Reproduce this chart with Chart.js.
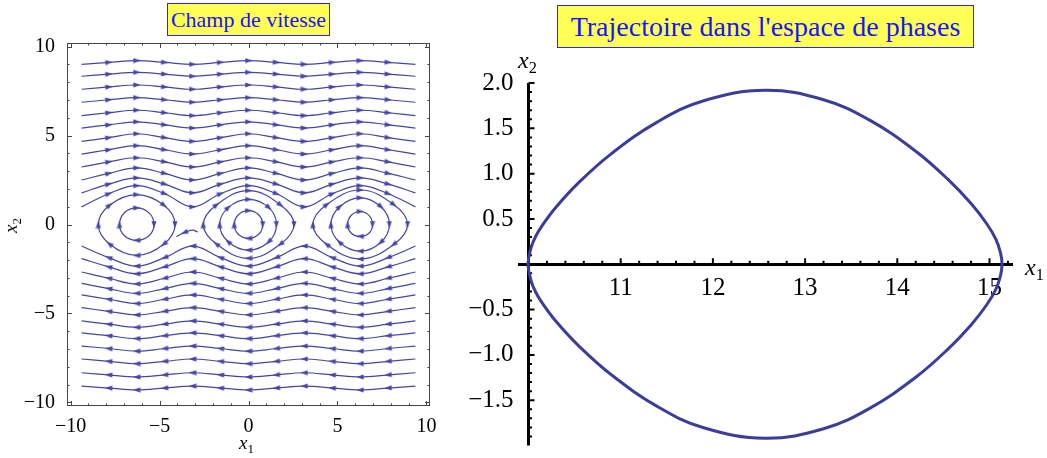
<!DOCTYPE html>
<html>
<head>
<meta charset="utf-8">
<script src="https://cdn.jsdelivr.net/npm/chart.js@4.4.1/dist/chart.umd.min.js"></script>
<style>
  html, body { margin: 0; background: #fff; }
  body { position: relative; width: 1047px; height: 458px; overflow: hidden; font-family: "Liberation Serif", "Times New Roman", serif; }
  canvas { position: absolute; top: 0; }
  #field { left: 0; }
  #phase { left: 450px; }
  .box { position: absolute; box-sizing: border-box; background: #ffff55; border: 1px solid #2b2be0; color: #1414ff; text-align: center; white-space: nowrap; }
  .lbl { position: absolute; font-style: italic; line-height: 1; white-space: nowrap; color: #000; }
  .lbl sub { font-style: normal; font-size: 0.68em; vertical-align: -0.32em; line-height: 0; }
</style>
</head>
<body>
<canvas id="field" width="445" height="458"></canvas>
<canvas id="phase" width="597" height="458"></canvas>

<div class="box" style="left:167px;top:3px;width:163px;height:33px;font-size:22px;line-height:31px;">Champ de vitesse</div>
<div class="box" style="left:557px;top:5px;width:417px;height:43px;font-size:28px;line-height:41px;">Trajectoire dans l'espace de phases</div>

<div class="lbl" style="left:239px;top:433px;font-size:19px;">x<sub>1</sub></div>
<div class="lbl" style="left:3px;top:216px;font-size:19px;transform:rotate(-90deg);">x<sub>2</sub></div>
<div class="lbl" style="left:518px;top:48px;font-size:24px;">x<sub>2</sub></div>
<div class="lbl" style="left:1025px;top:255px;font-size:24px;">x<sub>1</sub></div>

<script>
// ---- velocity field (left) ----
// open stream lines are sampled at the troughs (x1 = ±π, ±3π), the crests (0, ±2π) and half way between
const streamX1 = [-9.38, -7.85, -6.28, -4.71, -3.14, -1.57, 0, 1.57, 3.14, 4.71, 6.28, 7.85, 9.38];
const streamPhase = [0, 1, 2, 1, 0, 1, 2, 1, 0, 1, 2, 1, 0]; // 0 trough, 1 half way, 2 crest

// lines above the eyes (flow to the right)
const upperTrough = [9.00, 8.33, 7.60, 6.87, 6.12, 5.42, 4.67, 3.96, 3.23, 2.50, 1.78, 0.99];
const upperMid    = [9.11, 8.45, 7.73, 7.01, 6.28, 5.60, 4.88, 4.20, 3.52, 2.87, 2.27, 1.73];
const upperCrest  = [9.21, 8.55, 7.84, 7.13, 6.42, 5.77, 5.10, 4.43, 3.75, 3.18, 2.62, 2.18];

// lines below the eyes (flow to the left)
const lowerTrough = [-1.21, -1.92, -2.67, -3.31, -3.96, -4.67, -5.42, -6.09, -6.83, -7.56, -8.33, -9.08];
const lowerMid    = [-1.86, -2.38, -3.02, -3.60, -4.20, -4.88, -5.60, -6.25, -6.97, -7.69, -8.45, -9.19];
const lowerCrest  = [-2.34, -2.77, -3.34, -3.87, -4.44, -5.08, -5.78, -6.41, -7.12, -7.82, -8.57, -9.30];

// closed orbits, clockwise from the leftmost point
const orbitLeftSmall   = [[-7.25, 0], [-6.97, 0.66], [-6.28, 0.93], [-5.59, 0.65], [-5.31, 0], [-5.59, -0.63], [-6.28, -0.89], [-6.97, -0.63]];
const orbitLeftLarge   = [[-8.44, 0], [-7.81, 1.08], [-6.28, 1.68], [-4.75, 1.08], [-4.13, 0], [-4.75, -1.10], [-6.28, -1.74], [-7.81, -1.10]];
const orbitMidSmall    = [[-0.80, 0], [-0.57, 0.55], [0, 0.78], [0.57, 0.55], [0.80, 0], [0.57, -0.55], [0, -0.78], [-0.57, -0.55]];
const orbitMidMedium   = [[-1.62, 0], [-1.14, 0.95], [0, 1.41], [1.14, 0.95], [1.57, 0], [1.14, -0.97], [0, -1.44], [-1.14, -0.97]];
const orbitMidLarge    = [[-2.54, 0], [-1.80, 1.10], [0, 1.90], [1.80, 1.10], [2.56, 0], [1.80, -1.10], [0, -1.90], [-1.80, -1.10]];
const orbitRightSmall  = [[5.57, 0], [5.78, 0.52], [6.28, 0.73], [6.78, 0.50], [6.97, 0], [6.78, -0.48], [6.28, -0.67], [5.78, -0.49]];
const orbitRightMedium = [[4.63, 0], [5.12, 1.00], [6.28, 1.50], [7.44, 1.00], [7.92, 0], [7.44, -1.00], [6.28, -1.50], [5.12, -1.00]];
const orbitRightLarge  = [[3.62, 0], [4.40, 1.12], [6.28, 1.94], [8.16, 1.12], [8.94, 0], [8.16, -1.12], [6.28, -1.94], [4.40, -1.12]];

// short piece leaving the saddle at -π
const saddleSpur = [[-2.85, -0.42], [-3.15, -0.32], [-3.60, -0.45], [-4.05, -0.68]];

const fieldTicks = [-10, -5, 0, 5, 10];
const fieldMinor = [-9, -8, -7, -6, -4, -3, -2, -1, 1, 2, 3, 4, 6, 7, 8, 9];

// ---- phase trajectory (right) ----
const trajX1       = [9.996, 10.03, 10.08, 10.15, 10.3, 10.55, 10.9, 11.4, 11.9, 12.57, 13.2, 13.7, 14.2, 14.55, 14.8, 14.97, 15.07, 15.12, 15.136];
const trajX2Upper  = [0, 0.188, 0.312, 0.429, 0.632, 0.906, 1.221, 1.571, 1.804, 1.919, 1.815, 1.590, 1.247, 0.936, 0.670, 0.447, 0.274, 0.122, 0];
const trajX2Lower  = [0, -0.188, -0.312, -0.429, -0.632, -0.906, -1.221, -1.571, -1.804, -1.919, -1.815, -1.590, -1.247, -0.936, -0.670, -0.447, -0.274, -0.122, 0];

const phaseXTicks = [11, 12, 13, 14, 15];
const phaseXMinor = [10.2, 10.4, 10.6, 10.8, 11.2, 11.4, 11.6, 11.8, 12.2, 12.4, 12.6, 12.8, 13.2, 13.4, 13.6, 13.8, 14.2, 14.4, 14.6, 14.8, 15.2];
const phaseYTicks = [-1.5, -1, -0.5, 0.5, 1, 1.5, 2];
const phaseYMinor = [-1.9, -1.8, -1.7, -1.6, -1.4, -1.3, -1.2, -1.1, -0.9, -0.8, -0.7, -0.6, -0.4, -0.3, -0.2, -0.1,
                     0.1, 0.2, 0.3, 0.4, 0.6, 0.7, 0.8, 0.9, 1.1, 1.2, 1.3, 1.4, 1.6, 1.7, 1.8, 1.9];

const STREAM = '#4545a5';
const CURVE = '#3c3c9c';

Chart.defaults.font.family = '"Liberation Serif", "Times New Roman", serif';
Chart.defaults.color = '#000';

// small arrow head, pointing up; rotated along the line for every marker
const arrowHead = document.createElement('canvas');
arrowHead.width = 6;
arrowHead.height = 8;
{
  const g = arrowHead.getContext('2d');
  g.fillStyle = STREAM;
  g.beginPath();
  g.moveTo(3, 0.3);
  g.lineTo(5.6, 7.6);
  g.lineTo(0.4, 7.6);
  g.closePath();
  g.fill();
}

function minus(v, digits) {
  const s = digits ? Math.abs(v).toFixed(digits) : String(Math.abs(v));
  return v < 0 ? '\u2212' + s : s;
}

function arrowAngle(ctx) {
  if (ctx.type !== 'data') return 0;
  const d = ctx.dataset.data, i = ctx.dataIndex;
  const a = d[Math.max(i - 1, 0)], b = d[Math.min(i + 1, d.length - 1)];
  const sx = ctx.chart.scales.x, sy = ctx.chart.scales.y;
  const dx = sx.getPixelForValue(b.x) - sx.getPixelForValue(a.x);
  const dy = sy.getPixelForValue(b.y) - sy.getPixelForValue(a.y);
  return Math.atan2(dy, dx) * 180 / Math.PI + 90;
}

function openLine(t, m, c, leftward) {
  const lv = [t, m, c];
  const pts = streamX1.map((x, i) => ({x, y: lv[streamPhase[i]]}));
  return leftward ? pts.reverse() : pts;
}

// repeat one point at each end so the spline closes smoothly, the extra segments stay hidden
function closedLoop(pts) {
  const n = pts.length;
  const wrapped = [pts[n - 1], ...pts, pts[0], pts[1]];
  return wrapped.map(p => ({x: p[0], y: p[1]}));
}

function streamSet(points, arrows, loop) {
  const last = points.length - 1;
  const ds = {
    data: points,
    showLine: true,
    borderColor: STREAM,
    borderWidth: 1.2,
    tension: 0.4,
    pointStyle: arrowHead,
    pointRadius: ctx => arrows.includes(ctx.dataIndex) ? 3 : 0,
    pointRotation: arrowAngle
  };
  if (loop) {
    ds.segment = {
      borderColor: ctx => (ctx.p0DataIndex === 0 || ctx.p1DataIndex === last) ? 'rgba(0,0,0,0)' : undefined
    };
  }
  return ds;
}

const lineArrows = [1, 2, 3, 4, 5, 6, 7, 8, 9, 10, 11];
const fieldSets = [];
upperTrough.forEach((t, i) => fieldSets.push(streamSet(openLine(t, upperMid[i], upperCrest[i], false), lineArrows)));
lowerTrough.forEach((t, i) => fieldSets.push(streamSet(openLine(t, lowerMid[i], lowerCrest[i], true), lineArrows)));
[orbitLeftSmall, orbitMidSmall, orbitRightSmall].forEach(o => fieldSets.push(streamSet(closedLoop(o), [1, 3, 5, 7], true)));
[orbitLeftLarge, orbitMidMedium, orbitMidLarge, orbitRightMedium, orbitRightLarge]
  .forEach(o => fieldSets.push(streamSet(closedLoop(o), [1, 2, 3, 4, 5, 6, 7, 8], true)));
fieldSets.push(streamSet(saddleSpur.map(p => ({x: p[0], y: p[1]})), [2]));

// frame with inward ticks on the four sides
const framePlugin = {
  id: 'frameTicks',
  afterDraw(chart) {
    const {ctx, chartArea: a, scales: {x, y}} = chart;
    ctx.save();
    ctx.strokeStyle = '#444';
    ctx.lineWidth = 1;
    ctx.strokeRect(a.left + 0.5, a.top + 0.5, a.right - a.left - 1, a.bottom - a.top - 1);
    const mark = (vals, len) => {
      ctx.beginPath();
      vals.forEach(v => {
        const px = Math.round(x.getPixelForValue(v)) + 0.5;
        ctx.moveTo(px, a.bottom); ctx.lineTo(px, a.bottom - len);
        ctx.moveTo(px, a.top); ctx.lineTo(px, a.top + len);
        const py = Math.round(y.getPixelForValue(v)) + 0.5;
        ctx.moveTo(a.left, py); ctx.lineTo(a.left + len, py);
        ctx.moveTo(a.right, py); ctx.lineTo(a.right - len, py);
      });
      ctx.stroke();
    };
    mark(fieldTicks, 5);
    mark(fieldMinor, 2.5);
    ctx.restore();
  }
};

new Chart(document.getElementById('field'), {
  type: 'scatter',
  data: {datasets: fieldSets},
  options: {
    responsive: false,
    animation: false,
    events: [],
    layout: {padding: {top: 43, right: 15, left: 0, bottom: 0}},
    plugins: {legend: {display: false}, tooltip: {enabled: false}},
    scales: {
      x: {
        type: 'linear', position: 'bottom', min: -10.2, max: 10.2,
        grid: {display: false}, border: {display: false},
        afterBuildTicks: s => { s.ticks = fieldTicks.map(v => ({value: v})); },
        afterFit: s => { s.height = 52; },
        ticks: {font: {size: 20}, padding: 1, autoSkip: false, maxRotation: 0, callback: v => minus(v)}
      },
      y: {
        type: 'linear', position: 'left', min: -10.2, max: 10.2,
        grid: {display: false}, border: {display: false},
        afterBuildTicks: s => { s.ticks = fieldTicks.map(v => ({value: v})); },
        afterFit: s => { s.width = 67; },
        ticks: {font: {size: 20}, padding: 4, autoSkip: false, callback: v => minus(v)}
      }
    }
  },
  plugins: [framePlugin]
});

// ---- trajectory chart ----
const trajUpper = trajX1.map((x, i) => [x, trajX2Upper[i]]);
const trajLower = trajX1.map((x, i) => [x, trajX2Lower[i]]).slice(1, -1).reverse();

// y axis through x1 = 10 with ticks to the right, x ticks upward
const axesPlugin = {
  id: 'crossAxes',
  beforeDatasetsDraw(chart) {
    const {ctx, chartArea: a, scales: {x, y}} = chart;
    const x0 = x.getPixelForValue(10), y0 = y.getPixelForValue(0);
    ctx.save();
    ctx.strokeStyle = '#000';
    ctx.lineWidth = 3;
    ctx.beginPath();
    ctx.moveTo(x0, a.top);
    ctx.lineTo(x0, a.bottom);
    ctx.stroke();
    ctx.lineWidth = 2;
    ctx.beginPath();
    phaseYTicks.forEach(v => { const p = y.getPixelForValue(v); ctx.moveTo(x0, p); ctx.lineTo(x0 + 6, p); });
    phaseYMinor.forEach(v => { const p = y.getPixelForValue(v); ctx.moveTo(x0, p); ctx.lineTo(x0 + 3.5, p); });
    phaseXTicks.forEach(v => { const p = x.getPixelForValue(v); ctx.moveTo(p, y0); ctx.lineTo(p, y0 - 6); });
    phaseXMinor.forEach(v => { const p = x.getPixelForValue(v); ctx.moveTo(p, y0); ctx.lineTo(p, y0 - 3.5); });
    ctx.stroke();
    ctx.restore();
  }
};

const trajData = closedLoop([...trajUpper, ...trajLower]);
const trajLast = trajData.length - 1;

new Chart(document.getElementById('phase'), {
  type: 'scatter',
  data: {
    datasets: [{
      data: trajData,
      showLine: true,
      borderColor: CURVE,
      borderWidth: 3,
      tension: 0.4,
      pointRadius: 0,
      segment: {
        borderColor: ctx => (ctx.p0DataIndex === 0 || ctx.p1DataIndex === trajLast) ? 'rgba(0,0,0,0)' : undefined
      }
    }]
  },
  options: {
    responsive: false,
    animation: false,
    events: [],
    layout: {padding: {top: 83, right: 35, left: 0, bottom: 3}},
    plugins: {legend: {display: false}, tooltip: {enabled: false}},
    scales: {
      x: {
        type: 'linear', position: {y: 0}, min: 9.897, max: 15.244,
        grid: {display: false},
        border: {display: true, width: 3, color: '#000'},
        afterBuildTicks: s => { s.ticks = phaseXTicks.map(v => ({value: v})); },
        ticks: {font: {size: 25}, padding: 1, autoSkip: false, maxRotation: 0}
      },
      y: {
        type: 'linear', position: 'left', min: -2, max: 2,
        grid: {display: false}, border: {display: false},
        afterBuildTicks: s => { s.ticks = phaseYTicks.map(v => ({value: v})); },
        afterFit: s => { s.width = 69; },
        ticks: {font: {size: 25}, padding: -2.5, autoSkip: false, callback: v => minus(v, 1)}
      }
    }
  },
  plugins: [axesPlugin]
});
</script>
</body>
</html>
